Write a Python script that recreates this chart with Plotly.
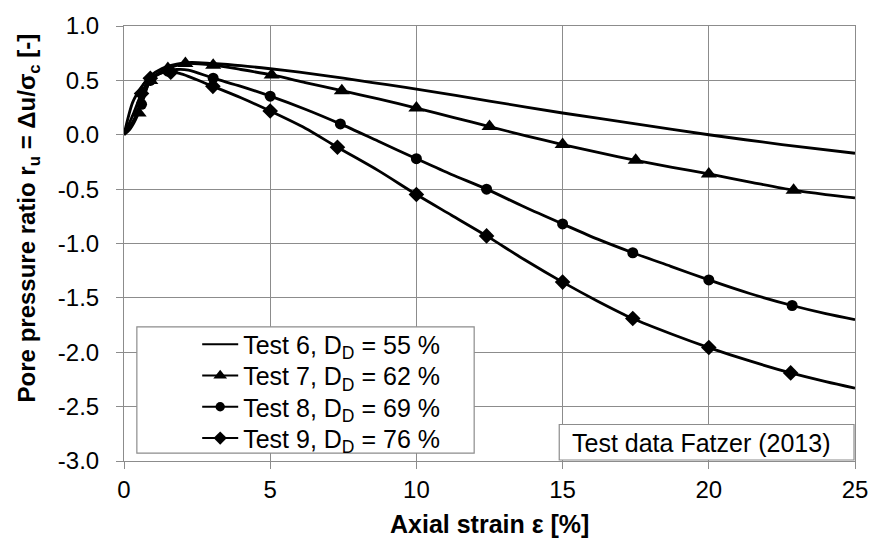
import plotly.graph_objects as go

# Pore pressure ratio r_u vs axial strain, triaxial tests (Fatzer 2013)

# Test 6 (D_D = 55 %), smooth curve only
t6_strain = [0, 0.3, 0.6, 0.9, 1.3, 1.8, 2.3, 3.0, 4.0, 5.0, 6.0, 7.0, 8.0, 9.0, 10.0,
             12.5, 15.0, 17.5, 20.0, 22.5, 25.0]
t6_ratio = [0, 0.30, 0.44, 0.54, 0.61, 0.65, 0.665, 0.655, 0.635, 0.607, 0.575, 0.54, 0.50,
            0.46, 0.42, 0.31, 0.20, 0.10, 0.0, -0.09, -0.17]

# Test 7 (D_D = 62 %)
t7_strain = [0, 0.2, 0.45, 0.7, 0.9, 1.2, 1.6, 2.1, 3.05, 4.0, 5.05, 6.2, 7.45, 8.7, 10.0,
             11.25, 12.5, 13.75, 15.0, 16.25, 17.5, 18.75, 20.0, 21.5, 22.9, 24.0, 25.0]
t7_ratio = [0, 0.05, 0.17, 0.38, 0.50, 0.57, 0.62, 0.655, 0.64, 0.60, 0.55, 0.48, 0.405, 0.33,
            0.245, 0.16, 0.075, -0.01, -0.09, -0.165, -0.235, -0.30, -0.36, -0.44, -0.51,
            -0.55, -0.58]
t7_mark_strain = [0.5, 0.9, 1.5, 2.1, 3.05, 5.05, 7.45, 10.0, 12.5, 15.0, 17.5, 20.0, 22.9]
t7_mark_ratio = [0.2, 0.5, 0.61, 0.655, 0.64, 0.55, 0.405, 0.245, 0.075, -0.09, -0.235,
                 -0.36, -0.51]

# Test 8 (D_D = 69 %)
t8_strain = [0, 0.3, 0.6, 0.9, 1.3, 1.8, 2.2, 3.05, 4.0, 5.0, 6.2, 7.4, 8.7, 10.0, 11.2,
             12.4, 13.7, 15.0, 16.2, 17.4, 18.7, 20.0, 21.4, 22.85, 24.0, 25.0]
t8_ratio = [0, 0.12, 0.28, 0.50, 0.57, 0.60, 0.595, 0.52, 0.445, 0.355, 0.235, 0.10, -0.06,
            -0.22, -0.365, -0.50, -0.665, -0.82, -0.96, -1.085, -1.21, -1.335, -1.46,
            -1.57, -1.645, -1.70]
t8_mark_strain = [0.6, 0.9, 1.5, 3.05, 5.0, 7.4, 10.0, 12.4, 15.0, 17.4, 20.0, 22.85]
t8_mark_ratio = [0.28, 0.50, 0.585, 0.52, 0.355, 0.10, -0.22, -0.50, -0.82, -1.085, -1.335,
                 -1.57]

# Test 9 (D_D = 76 %)
t9_strain = [0, 0.3, 0.6, 0.9, 1.4, 1.9, 3.04, 4.0, 5.0, 6.2, 7.3, 8.7, 10.0, 11.2, 12.4,
             13.7, 15.0, 16.2, 17.4, 18.7, 20.0, 21.4, 22.8, 24.0, 25.0]
t9_ratio = [0, 0.18, 0.38, 0.52, 0.575, 0.565, 0.445, 0.34, 0.218, 0.06, -0.115, -0.33,
            -0.55, -0.74, -0.93, -1.15, -1.355, -1.53, -1.69, -1.83, -1.957, -2.08, -2.19,
            -2.27, -2.33]
t9_mark_strain = [0.6, 0.9, 1.6, 3.04, 5.0, 7.3, 10.0, 12.4, 15.0, 17.4, 20.0, 22.8]
t9_mark_ratio = [0.38, 0.52, 0.575, 0.445, 0.218, -0.115, -0.55, -0.93, -1.355, -1.69,
                 -1.957, -2.19]

test_names = ["Test 6, D<sub>D</sub> = 55 %", "Test 7, D<sub>D</sub> = 62 %",
              "Test 8, D<sub>D</sub> = 69 %", "Test 9, D<sub>D</sub> = 76 %"]

x_ticks = [0, 5, 10, 15, 20, 25]
y_ticks = [1.0, 0.5, 0.0, -0.5, -1.0, -1.5, -2.0, -2.5, -3.0]
y_tick_text = ["1.0", "0.5", "0.0", "-0.5", "-1.0", "-1.5", "-2.0", "-2.5", "-3.0"]

FONT = "Liberation Sans, Arial, sans-serif"
LINE_W = 2.8
GRID = "#8c8c8c"

# plot-area pixel helpers for paper coordinates
L, T, PW, PH = 124, 20, 739, 441
def px(xp):
    return (xp - L) / PW
def py(yp):
    return (T + PH - yp) / PH

fig = go.Figure()

series = [
    (t6_strain, t6_ratio, None, None, None, 0),
    (t7_strain, t7_ratio, t7_mark_strain, t7_mark_ratio, "triangle-up", 14),
    (t8_strain, t8_ratio, t8_mark_strain, t8_mark_ratio, "circle", 11),
    (t9_strain, t9_ratio, t9_mark_strain, t9_mark_ratio, "diamond", 12),
]
legend_ids = ["legend", "legend2", "legend3", "legend4"]
legend_rows = [343, 374.7, 406.3, 438]

for name, lid, (sx, sy, mx, my, sym, msize) in zip(test_names, legend_ids, series):
    fig.add_trace(go.Scatter(x=sx, y=sy, mode="lines", line=dict(color="black", width=LINE_W,
                             shape="spline", smoothing=0.8), showlegend=False, hoverinfo="skip"))
    if mx is not None:
        fig.add_trace(go.Scatter(x=mx, y=my, mode="markers", showlegend=False,
                                 marker=dict(symbol=sym, size=msize, color="black")))
    # legend entry
    fig.add_trace(go.Scatter(x=[None], y=[None], name=name, legend=lid,
                             mode="lines+markers" if sym else "lines",
                             line=dict(color="black", width=2),
                             marker=dict(symbol=sym or "circle", size=msize * 0.85, color="black")))

# legend frame
fig.add_shape(type="rect", xref="paper", yref="paper", x0=px(137), x1=px(478), y0=py(453),
              y1=py(325), line=dict(color=GRID, width=1.2), fillcolor="white", layer="above")
# source box
fig.add_shape(type="rect", xref="paper", yref="paper", x0=px(564), x1=px(862), y0=py(460),
              y1=py(424), line=dict(color=GRID, width=1.2), fillcolor="white", layer="above")
fig.add_annotation(xref="paper", yref="paper", x=px(707), y=py(443), text="Test data Fatzer (2013)",
                   showarrow=False, font=dict(family=FONT, size=25, color="black"),
                   xanchor="center", yanchor="middle")

fig.add_annotation(xref="paper", yref="paper", x=px(27), y=py(215),
                   text="Pore pressure ratio r<sub>u</sub> = \u0394u/\u03c3<sub>c</sub> [-]",
                   textangle=-90, showarrow=False, xanchor="center", yanchor="middle",
                   font=dict(family=FONT, size=24, color="black", weight="bold"))
fig.add_annotation(xref="paper", yref="paper", x=px(494), y=py(525),
                   text="Axial strain \u03b5 [%]", showarrow=False,
                   xanchor="center", yanchor="middle",
                   font=dict(family=FONT, size=25, color="black", weight="bold"))

fig.update_xaxes(range=[0, 25], tickvals=x_ticks, showgrid=True, gridcolor=GRID, gridwidth=1,
                 zeroline=False, showline=True, linecolor=GRID, linewidth=1, mirror=True,
                 ticks="outside", ticklen=7, tickcolor=GRID,
                 tickfont=dict(family=FONT, size=24, color="black"))
fig.update_yaxes(range=[-3.0, 1.0], tickvals=y_ticks, ticktext=y_tick_text, showgrid=True,
                 gridcolor=GRID, gridwidth=1, zeroline=False, showline=True, linecolor=GRID,
                 linewidth=1, mirror=True, ticks="outside", ticklen=7, tickcolor=GRID,
                 ticklabelstandoff=12, tickfont=dict(family=FONT, size=24, color="black"))

legend_style = dict(xanchor="left", yanchor="middle", bgcolor="rgba(0,0,0,0)", borderwidth=0,
                    font=dict(family=FONT, size=25, color="black"), itemwidth=36)
legend_layout = {lid: dict(x=px(198), y=py(row), **legend_style)
                 for lid, row in zip(legend_ids, legend_rows)}

fig.update_layout(
    width=880, height=542,
    margin=dict(l=L, r=880 - L - PW, t=T, b=542 - T - PH),
    paper_bgcolor="white", plot_bgcolor="white",
    showlegend=True,
    **legend_layout,
)

fig.write_html("out.html")
